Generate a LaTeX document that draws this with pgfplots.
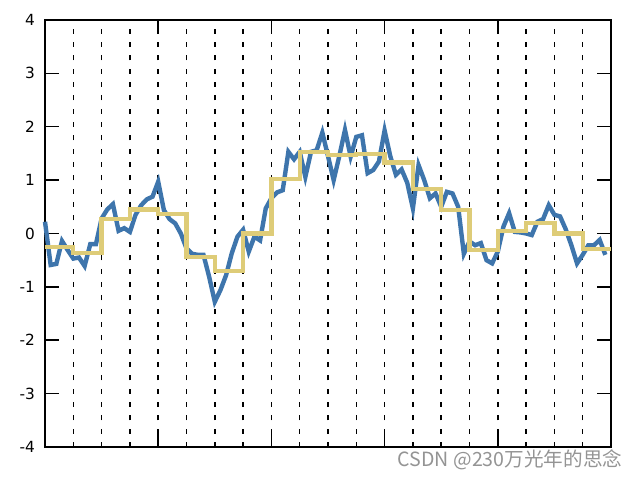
\documentclass[border=0pt]{standalone}
\usepackage{fontspec}
\setmainfont{DejaVu Sans}
\newfontfamily\cjk{Noto Sans CJK SC}
\usepackage{pgfplots}
\pgfplotsset{compat=1.18}
\definecolor{lineblue}{RGB}{62,117,172}
\definecolor{stepyellow}{RGB}{222,204,120}

% raw signal, one value per step
\pgfplotstableread{
x y
0 0.22
1 -0.59
2 -0.57
3 -0.14
4 -0.31
5 -0.47
6 -0.45
7 -0.61
8 -0.20
9 -0.20
10 0.28
11 0.45
12 0.55
13 0.05
14 0.10
15 0.03
16 0.35
17 0.53
18 0.64
19 0.69
20 0.97
21 0.44
22 0.27
23 0.19
24 0.00
25 -0.28
26 -0.38
27 -0.40
28 -0.40
29 -0.81
30 -1.28
31 -1.06
32 -0.78
33 -0.37
34 -0.06
35 0.07
36 -0.34
37 -0.06
38 -0.13
39 0.47
40 0.66
41 0.77
42 0.81
43 1.53
44 1.39
45 1.53
46 1.06
47 1.53
48 1.56
49 1.89
50 1.45
51 1.00
52 1.45
53 1.94
54 1.44
55 1.81
56 1.84
57 1.13
58 1.19
59 1.35
60 1.93
61 1.45
62 1.10
63 1.20
64 0.95
65 0.47
66 1.28
67 1.00
68 0.66
69 0.75
70 0.50
71 0.78
72 0.75
73 0.50
74 -0.38
75 -0.15
76 -0.22
77 -0.18
78 -0.50
79 -0.56
80 -0.34
81 0.13
82 0.38
83 0.03
84 0.02
85 0.00
86 -0.03
87 0.22
88 0.27
89 0.53
90 0.35
91 0.32
92 0.08
93 -0.22
94 -0.56
95 -0.40
96 -0.22
97 -0.22
98 -0.12
99 -0.40
}\rawdata

% block means, every 5 steps
\pgfplotstableread{
x y
0 -0.26
5 -0.37
10 0.27
15 0.45
20 0.37
25 -0.44
30 -0.70
35 0.00
40 1.02
45 1.52
50 1.47
55 1.49
60 1.33
65 0.83
70 0.44
75 -0.31
80 0.05
85 0.19
90 0.00
95 -0.29
100 -0.29
}\blockdata

\begin{document}
\begin{tikzpicture}
\begin{axis}[
  name=ax,
  scale only axis,
  width=424.5pt,
  height=320.25pt,
  xmin=0, xmax=100,
  ymin=-4, ymax=4,
  xtick={20,40,60,80},
  xticklabels={},
  minor xtick={5,10,...,95},
  xminorgrids=true,
  minor grid style={black, line width=1.15pt, dash pattern=on 3.8pt off 6.2pt},
  minor tick length=0pt,
  major tick length=10.5pt,
  ytick={-4,-3,-2,-1,0,1,2,3,4},
  yticklabels={-4,-3,-2,-1,0,1,2,3,4},
  tick style={black, line width=1.1pt},
  axis line style={black, line width=1.4pt},
  tick label style={font=\fontsize{11.5}{13}\selectfont},
  yticklabel style={xshift=-4pt},
  clip=false,
]
\addplot[lineblue, line width=3.3pt, mark=none] table[x=x, y=y] {\rawdata};
\addplot[stepyellow, line width=3.2pt, mark=none, const plot mark left] table[x=x, y=y] {\blockdata};
\end{axis}
\pgfresetboundingbox
\path[use as bounding box] ([shift={(-33.75pt,-24.75pt)}]ax.south west) rectangle ([shift={(21.75pt,15pt)}]ax.north east);
\node[anchor=base east, text=black!42, font=\cjk\fontsize{14.7}{16}\selectfont, inner sep=0pt]
  at ([shift={(8.7pt,-14.5pt)}]ax.south east) {CSDN @230万光年的思念};
\end{tikzpicture}
\end{document}
